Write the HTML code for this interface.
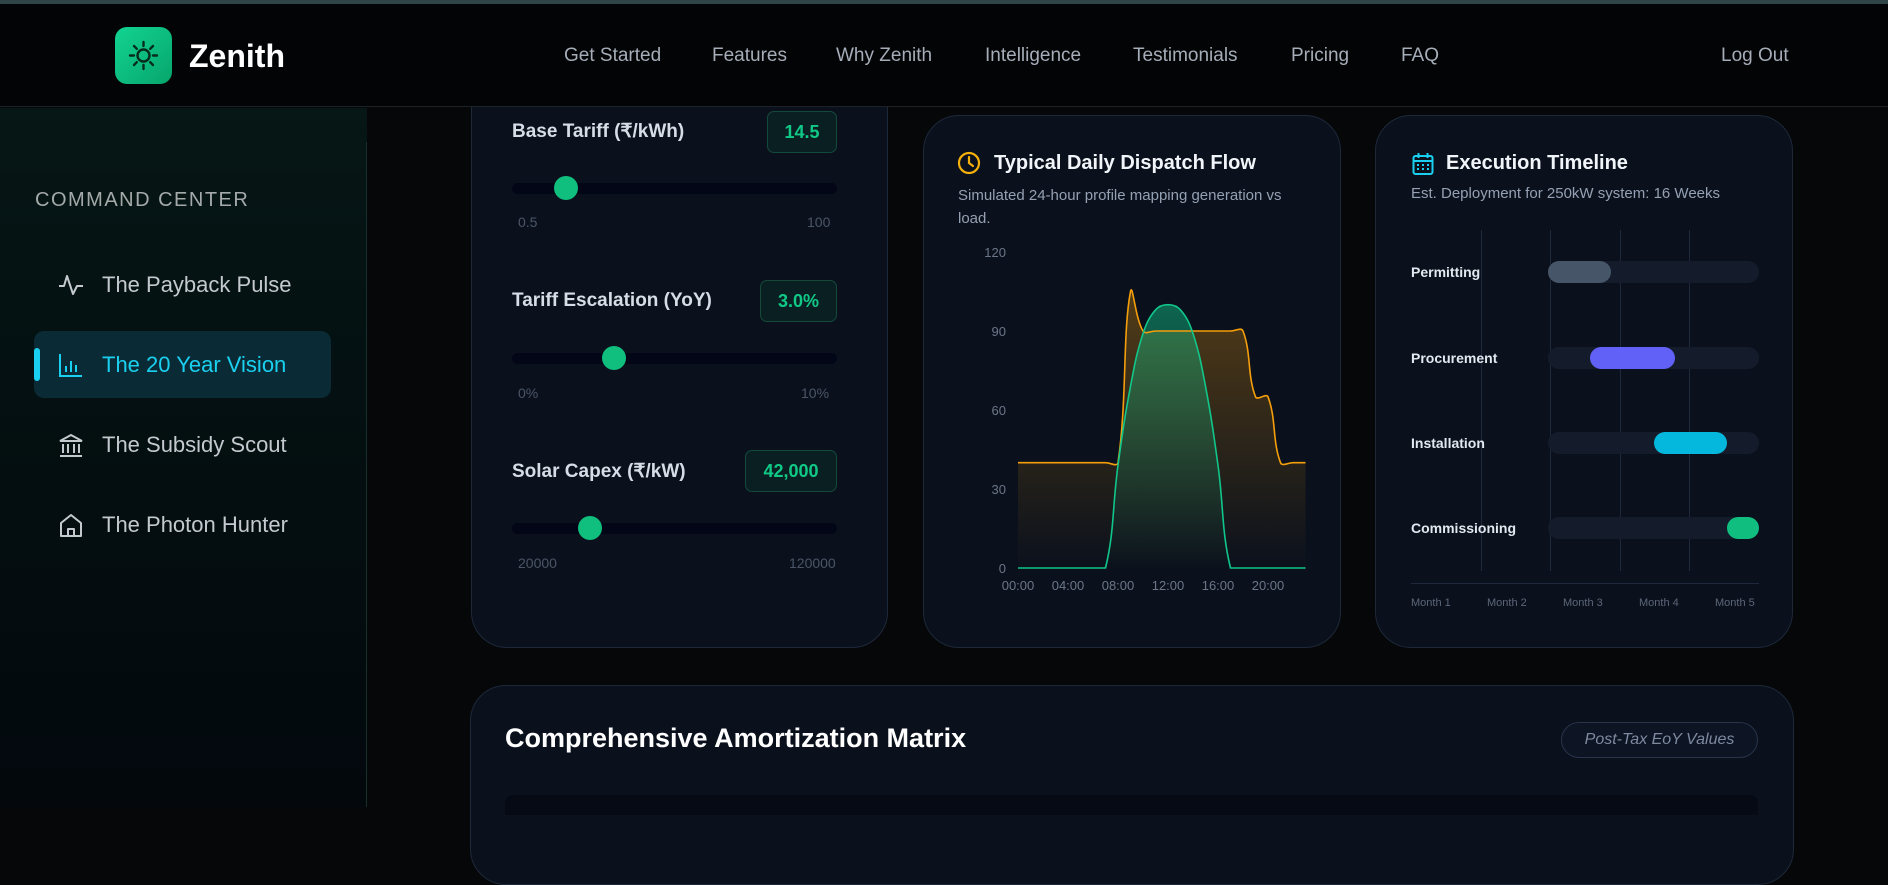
<!DOCTYPE html>
<html><head><meta charset="utf-8"><style>
*{box-sizing:border-box;margin:0;padding:0}
body{width:1888px;height:807px;overflow:hidden;background:#050709;font-family:"Liberation Sans",sans-serif;position:relative;color:#e2e8f0}
.abs{position:absolute}
.topline{left:0;top:0;width:1888px;height:4px;background:#2f4548;z-index:11}
header{position:absolute;left:0;top:4px;width:1888px;height:103px;background:#030405;border-bottom:1px solid #1c2228;z-index:10}
.nav{position:absolute;top:45px;font-size:19px;color:#a5adb8}
.side{position:absolute;left:0;top:108px;width:367px;height:699px;background:linear-gradient(180deg,#061715 0%,#041011 40%,#03080d 100%)}
.sideline{position:absolute;left:366px;top:142px;width:1px;height:665px;background:#16302c}
.item{position:absolute;left:102px;font-size:22px;color:#c3c9cf}
.card{position:absolute;background:#0b111c;border:1px solid #1d2839;border-radius:36px}
.lbl{position:absolute;left:40px;font-size:19px;font-weight:bold;color:#d6dde6}
.badge{position:absolute;border:1px solid #134a3a;background:#0a1f22;border-radius:7px;color:#10c987;font-weight:bold;font-size:18px;text-align:center}
.track{position:absolute;left:40px;width:325px;height:11px;border-radius:6px;background:#030617}
.thumb{position:absolute;width:24px;height:24px;border-radius:50%;background:#10bf7e;top:-7px}
.mm{position:absolute;font-size:14px;color:#4a5567}
</style></head><body>
<div class="abs topline"></div>
<header>
 <div class="abs" style="left:115px;top:23px;width:57px;height:57px;border-radius:12px;background:linear-gradient(135deg,#12d492,#07a56c)">
  <svg width="57" height="57" viewBox="0 0 57 57"><g stroke="#062c1e" stroke-width="2.4" fill="none" stroke-linecap="round"><circle cx="28.5" cy="28.5" r="6"/><path d="M28.5 15v4M28.5 38v4M15 28.5h4M38 28.5h4M19 19l2.8 2.8M35.2 35.2l2.8 2.8M19 38l2.8-2.8M35.2 21.8l2.8-2.8"/></g></svg>
 </div>
 <div class="abs" style="left:189px;top:34px;font-size:32px;font-weight:bold;color:#fff">Zenith</div>
 <div class="nav" style="left:564px;top:41px">Get Started</div>
 <div class="nav" style="left:712px;top:41px">Features</div>
 <div class="nav" style="left:836px;top:41px">Why Zenith</div>
 <div class="nav" style="left:985px;top:41px">Intelligence</div>
 <div class="nav" style="left:1133px;top:41px">Testimonials</div>
 <div class="nav" style="left:1291px;top:41px">Pricing</div>
 <div class="nav" style="left:1401px;top:41px">FAQ</div>
 <div class="nav" style="left:1721px;top:41px">Log Out</div>
</header>
<div class="side"></div>
<div class="sideline"></div>
<div class="abs" style="left:35px;top:189px;font-size:20px;letter-spacing:1.5px;color:#a4aaa9">COMMAND CENTER</div>
<div class="abs" style="left:34px;top:331px;width:297px;height:67px;border-radius:10px;background:#0a2b35"></div>
<div class="abs" style="left:34px;top:348px;width:6px;height:33px;border-radius:3px;background:#1ad0f0"></div>
<svg class="abs" style="left:58px;top:273px" width="26" height="24"><path d="M1 13h5l3-10 6 18 4-8h6" fill="none" stroke="#c3c9cf" stroke-width="2" stroke-linejoin="round"/></svg>
<div class="item" style="top:272px">The Payback Pulse</div>
<svg class="abs" style="left:58px;top:352px" width="26" height="26"><path d="M2 2v22h22M8 20v-6M13 20v-11M18 20v-7" fill="none" stroke="#1ad0f0" stroke-width="2"/></svg>
<div class="item" style="top:352px;color:#1ad0f0">The 20 Year Vision</div>
<svg class="abs" style="left:58px;top:432px" width="26" height="26"><path d="M2 9L13 3l11 6H2zM5 12v9M10 12v9M16 12v9M21 12v9M2 24h22" fill="none" stroke="#c3c9cf" stroke-width="2"/></svg>
<div class="item" style="top:432px">The Subsidy Scout</div>
<svg class="abs" style="left:58px;top:512px" width="26" height="26"><path d="M3 24V11l10-8 10 8v13zM10 24v-7h6v7" fill="none" stroke="#c3c9cf" stroke-width="2" stroke-linejoin="round"/></svg>
<div class="item" style="top:512px">The Photon Hunter</div>

<div class="card" style="left:471px;top:40px;width:417px;height:608px">
 <div class="lbl" style="top:79px">Base Tariff (₹/kWh)</div>
 <div class="badge" style="left:295px;top:70px;width:70px;height:42px;line-height:40px">14.5</div>
 <div class="track" style="top:142px"><div class="thumb" style="left:42px"></div></div>
 <div class="mm" style="left:46px;top:173px">0.5</div>
 <div class="mm" style="left:335px;top:173px">100</div>
 <div class="lbl" style="top:249px">Tariff Escalation (YoY)</div>
 <div class="badge" style="left:288px;top:239px;width:77px;height:42px;line-height:40px">3.0%</div>
 <div class="track" style="top:312px"><div class="thumb" style="left:90px"></div></div>
 <div class="mm" style="left:46px;top:344px">0%</div>
 <div class="mm" style="left:329px;top:344px">10%</div>
 <div class="lbl" style="top:419px">Solar Capex (₹/kW)</div>
 <div class="badge" style="left:273px;top:409px;width:92px;height:42px;line-height:40px">42,000</div>
 <div class="track" style="top:482px"><div class="thumb" style="left:66px"></div></div>
 <div class="mm" style="left:46px;top:514px">20000</div>
 <div class="mm" style="left:317px;top:514px">120000</div>
</div>

<div class="card" style="left:923px;top:115px;width:418px;height:533px"></div>
<svg class="abs" style="left:957px;top:151px" width="24" height="24"><circle cx="12" cy="12" r="10" fill="none" stroke="#f5b00b" stroke-width="2.2"/><path d="M12 6v6l4 3" fill="none" stroke="#f5b00b" stroke-width="2.2" stroke-linecap="round"/></svg>
<div class="abs" style="left:994px;top:152px;font-size:20px;font-weight:bold;color:#f1f5f9">Typical Daily Dispatch Flow</div>
<div class="abs" style="left:958px;top:184px;width:340px;font-size:15px;line-height:23px;color:#94a0b3">Simulated 24-hour profile mapping generation vs load.</div>
<svg id="dc" class="abs" style="left:0;top:0" width="1888" height="807"></svg>

<div class="card" style="left:1375px;top:115px;width:418px;height:533px"></div>
<svg class="abs" style="left:1412px;top:152px" width="22" height="24"><rect x="1.5" y="4" width="19" height="18" rx="2" fill="none" stroke="#1ad0f0" stroke-width="2"/><path d="M1.5 9h19M6.5 1v5M15.5 1v5" stroke="#1ad0f0" stroke-width="2"/><g fill="#1ad0f0"><rect x="5" y="12" width="2" height="2"/><rect x="10" y="12" width="2" height="2"/><rect x="15" y="12" width="2" height="2"/><rect x="5" y="16" width="2" height="2"/><rect x="10" y="16" width="2" height="2"/><rect x="15" y="16" width="2" height="2"/></g></svg>
<div class="abs" style="left:1446px;top:152px;font-size:20px;font-weight:bold;color:#f1f5f9">Execution Timeline</div>
<div class="abs" style="left:1411px;top:185px;font-size:15px;color:#94a0b3">Est. Deployment for 250kW system: 16 Weeks</div>
<div id="tl"></div>

<div class="card" style="left:470px;top:685px;width:1324px;height:200px"></div>
<div class="abs" style="left:505px;top:723px;font-size:27px;font-weight:bold;color:#fff">Comprehensive Amortization Matrix</div>
<div class="abs" style="left:1561px;top:722px;width:197px;height:36px;border:1px solid #27344a;border-radius:18px;background:#0d1424;color:#7d8aa0;font-style:italic;font-size:16px;text-align:center;line-height:34px">Post-Tax EoY Values</div>
<div class="abs" style="left:505px;top:795px;width:1253px;height:20px;background:#060a14;border-radius:8px 8px 0 0"></div>

<script>
const hours=["00:00","01:00","02:00","03:00","04:00","05:00","06:00","07:00","08:00","09:00","10:00","11:00","12:00","13:00","14:00","15:00","16:00","17:00","18:00","19:00","20:00","21:00","22:00","23:00"];
const loadValues=[40,40,40,40,40,40,40,40,40,105,90,90,90,90,90,90,90,90,90,65,65,40,40,40];
const solarValues=[0,0,0,0,0,0,0,0,39,69,89,98,100,98,89,69,39,0,0,0,0,0,0,0];
const yTicks=[0,30,60,90,120];
const xTickLabels=["00:00","04:00","08:00","12:00","16:00","20:00"];
const NS="http://www.w3.org/2000/svg";
const svg=document.getElementById('dc');
const X0=1018,XS=12.5,Y0=568,YS=79/30,TOP=252;
const xs=i=>X0+i*XS, ys=v=>Math.max(TOP,Y0-v*YS);
function mk(t,a){const e=document.createElementNS(NS,t);for(const k in a)e.setAttribute(k,a[k]);svg.appendChild(e);return e;}
const defs=mk('defs',{});
defs.innerHTML='<linearGradient id="gl" x1="0" y1="'+TOP+'" x2="0" y2="'+Y0+'" gradientUnits="userSpaceOnUse"><stop offset="0" stop-color="#f59e0b" stop-opacity="0.35"/><stop offset="1" stop-color="#f59e0b" stop-opacity="0"/></linearGradient><linearGradient id="gs" x1="0" y1="'+TOP+'" x2="0" y2="'+Y0+'" gradientUnits="userSpaceOnUse"><stop offset="0" stop-color="#10b981" stop-opacity="0.6"/><stop offset="1" stop-color="#10b981" stop-opacity="0"/></linearGradient>';
function pathD(vals){
 const p=vals.map((v,i)=>[xs(i),Y0-v*YS]);const t=0.4;const cps=[];
 for(let i=0;i<p.length;i++){const pr=p[i-1]||p[i],c=p[i],nx=p[i+1]||p[i];
  const d01=Math.hypot(c[0]-pr[0],c[1]-pr[1]),d12=Math.hypot(nx[0]-c[0],nx[1]-c[1]);
  let fa=d01/(d01+d12||1),fb=d12/(d01+d12||1);fa=t*(isNaN(fa)?0:fa);fb=t*(isNaN(fb)?0:fb);
  cps.push([[c[0]-fa*(nx[0]-pr[0]),Math.min(Y0,Math.max(TOP,c[1]-fa*(nx[1]-pr[1])))],[c[0]+fb*(nx[0]-pr[0]),Math.min(Y0,Math.max(TOP,c[1]+fb*(nx[1]-pr[1])))]]);}
 let d='M'+p[0][0]+' '+p[0][1];
 for(let i=1;i<p.length;i++)d+=' C'+cps[i-1][1][0]+' '+cps[i-1][1][1]+' '+cps[i][0][0]+' '+cps[i][0][1]+' '+p[i][0]+' '+p[i][1];
 return d;}
const n=hours.length;
const la=mk('path',{d:pathD(loadValues)+' L'+xs(n-1)+' '+Y0+' L'+xs(0)+' '+Y0+'Z',fill:'url(#gl)'});

const sa=mk('path',{d:pathD(solarValues)+' L'+xs(n-1)+' '+Y0+' L'+xs(0)+' '+Y0+'Z',fill:'url(#gs)'});

const ll=mk('path',{d:pathD(loadValues),fill:'none',stroke:'#f59e0b','stroke-width':1.6});

const sl=mk('path',{d:pathD(solarValues),fill:'none',stroke:'#10c68a','stroke-width':1.6});

yTicks.forEach(v=>{const t=mk('text',{x:1006,y:Y0-v*YS+5,'text-anchor':'end','font-size':13,fill:'#6b7689','font-family':'Liberation Sans'});t.textContent=v;
 });
xTickLabels.forEach(l=>{const i=hours.indexOf(l);const t=mk('text',{x:xs(i),y:590,'text-anchor':'middle','font-size':13,fill:'#6b7689','font-family':'Liberation Sans'});t.textContent=l;
 });

const phases=["Permitting","Procurement","Installation","Commissioning"];
const phaseStart=[0,0.2,0.5,0.85];
const phaseEnd=[0.3,0.6,0.85,1.0];
const phaseColors=["#475569","#6161f7","#03b8dc","#10bf80"];
const months=["Month 1","Month 2","Month 3","Month 4","Month 5"];
const tl=document.getElementById('tl');
const TX=1548,TW=211,rowY=[272,358,443,528];
function dv(css){const e=document.createElement('div');e.className='abs';e.style.cssText=css;tl.appendChild(e);return e;}
[1481,1550,1620,1689].forEach(x=>{const g=dv('left:'+x+'px;top:230px;width:1px;height:341px;background:#1e293b');
 });
phases.forEach((p,i)=>{
 const l=dv('left:1411px;top:'+(rowY[i]-8)+'px;font-size:14px;font-weight:bold;color:#e2e8f0');l.textContent=p;
 
 const tr=dv('left:'+TX+'px;top:'+(rowY[i]-11)+'px;width:'+TW+'px;height:22px;border-radius:11px;background:#141c2b');
 
 const b=dv('left:'+(TX+phaseStart[i]*TW)+'px;top:'+(rowY[i]-11)+'px;width:'+((phaseEnd[i]-phaseStart[i])*TW)+'px;height:22px;border-radius:11px;background:'+phaseColors[i]);
 
});
const ax=dv('left:1411px;top:583px;width:348px;height:1px;background:#1e293b');

months.forEach((m,i)=>{const e=dv('left:'+(1411+i*(348-44)/(months.length-1))+'px;top:597px;font-size:11px;color:#5b6679');e.textContent=m;
 });
</script>
</body></html>
